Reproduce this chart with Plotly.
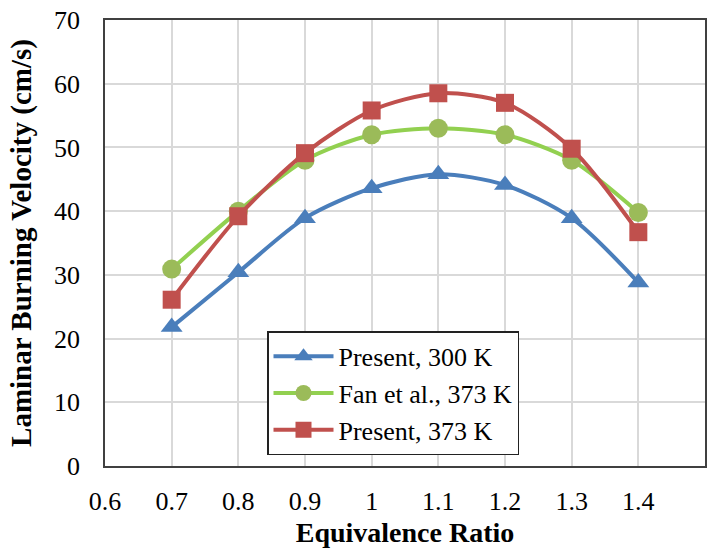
import plotly.graph_objects as go

phi = [0.7, 0.8, 0.9, 1.0, 1.1, 1.2, 1.3, 1.4]
present_300 = [21.8, 30.4, 38.9, 43.6, 45.8, 44.1, 38.9, 28.8]
fan_373 = [30.9, 40.0, 48.0, 52.0, 53.0, 52.0, 48.0, 39.8]
present_373 = [26.1, 39.2, 49.1, 55.8, 58.5, 57.0, 49.8, 36.7]

x_ticks = [0.6, 0.7, 0.8, 0.9, 1.0, 1.1, 1.2, 1.3, 1.4, 1.5]
x_tick_text = ["0.6", "0.7", "0.8", "0.9", "1", "1.1", "1.2", "1.3", "1.4", "1.5"]
y_ticks = [0, 10, 20, 30, 40, 50, 60, 70]

serif = "Liberation Serif, Times New Roman, serif"

fig = go.Figure()
fig.add_trace(go.Scatter(
    x=phi, y=present_300, name="Present, 300 K", mode="lines+markers",
    line=dict(color="#4A7EBB", width=4, shape="spline", smoothing=0.8),
    marker=dict(symbol="triangle-up", size=19, color="#4A7EBB"),
))
fig.add_trace(go.Scatter(
    x=phi, y=fan_373, name="Fan et al., 373 K", mode="lines+markers",
    line=dict(color="#92D050", width=4, shape="spline", smoothing=0.8),
    marker=dict(symbol="circle", size=19, color="#9BBB59"),
))
fig.add_trace(go.Scatter(
    x=phi, y=present_373, name="Present, 373 K", mode="lines+markers",
    line=dict(color="#C0504D", width=4, shape="spline", smoothing=0.8),
    marker=dict(symbol="square", size=18, color="#C0504D"),
))

fig.update_layout(
    width=721, height=556,
    margin=dict(l=105, r=16, t=20, b=90),
    paper_bgcolor="white", plot_bgcolor="white",
    font=dict(family=serif, size=26, color="black"),
    showlegend=True,
    legend=dict(
        x=0.27, y=0.302, xanchor="left", yanchor="top",
        bgcolor="white", bordercolor="#222222", borderwidth=1.5,
        font=dict(family=serif, size=26, color="black"),
        tracegroupgap=0, itemwidth=60,
    ),
    xaxis=dict(
        range=[0.6, 1.5], tickvals=x_ticks, ticktext=x_tick_text,
        showgrid=True, gridcolor="#D9D9D9", gridwidth=1.5,
        showline=True, linecolor="#404040", linewidth=1.5, mirror=True,
        ticks="", zeroline=False, automargin=False, ticklabelstandoff=11,
        tickfont=dict(family=serif, size=26),
        title=dict(text="<b>Equivalence Ratio</b>", font=dict(family=serif, size=28), standoff=7),
    ),
    yaxis=dict(
        range=[0, 70], tickvals=y_ticks,
        showgrid=True, gridcolor="#D9D9D9", gridwidth=1.5,
        showline=True, linecolor="#404040", linewidth=1.5, mirror=True,
        ticks="", zeroline=False, automargin=False, ticklabelstandoff=18,
        tickfont=dict(family=serif, size=26),
        title=dict(text="<b>Laminar Burning Velocity (cm/s)</b>", font=dict(family=serif, size=29), standoff=14),
    ),
)

fig.write_html("out.html")
